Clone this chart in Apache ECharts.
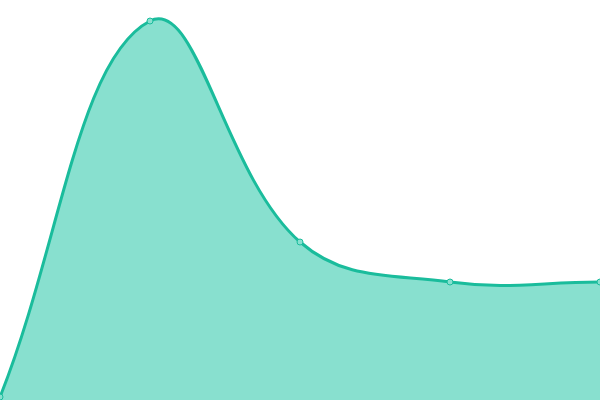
<!DOCTYPE html>
<html><head><meta charset="utf-8">
<script src="https://cdn.jsdelivr.net/npm/echarts@6/dist/echarts.min.js"></script>
<style>html,body{margin:0;padding:0;background:#fff}#c{width:600px;height:400px}</style>
</head><body><div id="c"></div>
<script>
const categories = ['A', 'B', 'C', 'D', 'E'];
const values = [3, 379, 158, 118, 118];
const tension = 0.4;

function splinePath(pts) {
  // cardinal-style bezier control points (Chart.js-like)
  const n = pts.length;
  const cps = [];
  for (let i = 0; i < n; i++) {
    const prev = pts[Math.max(i - 1, 0)];
    const cur = pts[i];
    const next = pts[Math.min(i + 1, n - 1)];
    const d01 = Math.hypot(cur[0] - prev[0], cur[1] - prev[1]);
    const d12 = Math.hypot(next[0] - cur[0], next[1] - cur[1]);
    let s01 = d01 / (d01 + d12), s12 = d12 / (d01 + d12);
    s01 = isNaN(s01) ? 0 : s01; s12 = isNaN(s12) ? 0 : s12;
    const fa = tension * s01, fb = tension * s12;
    cps.push({
      prev: [cur[0] - fa * (next[0] - prev[0]), cur[1] - fa * (next[1] - prev[1])],
      next: [cur[0] + fb * (next[0] - prev[0]), cur[1] + fb * (next[1] - prev[1])]
    });
  }
  let d = 'M' + pts[0][0] + ' ' + pts[0][1];
  for (let i = 1; i < n; i++) {
    const c1 = cps[i - 1].next, c2 = cps[i].prev;
    d += ' C' + c1[0] + ' ' + c1[1] + ' ' + c2[0] + ' ' + c2[1] + ' ' + pts[i][0] + ' ' + pts[i][1];
  }
  return d;
}

const chart = echarts.init(document.getElementById('c'));
chart.setOption({
  animation: false,
  grid: { left: 0, right: 0, top: 0, bottom: 0 },
  xAxis: { type: 'category', data: categories, boundaryGap: false, show: false },
  yAxis: { type: 'value', min: 0, max: 400, show: false },
  series: [{
    type: 'custom',
    data: [0],
    clip: false,
    silent: true,
    renderItem: function (params, api) {
      const pts = values.map((v, i) => api.coord([i, v]));
      const line = splinePath(pts);
      const base = api.coord([0, 0])[1];
      const area = line + ' L' + pts[pts.length - 1][0] + ' ' + base + ' L' + pts[0][0] + ' ' + base + ' Z';
      return {
        type: 'group',
        children: [
          { type: 'path', shape: { pathData: area }, style: { fill: '#88e0cf', stroke: null } },
          { type: 'path', shape: { pathData: line }, style: { fill: null, stroke: '#1abc9c', lineWidth: 3 } }
        ]
      };
    }
  }, {
    type: 'line',
    data: values,
    z: 5,
    symbol: 'circle',
    symbolSize: 6,
    lineStyle: { width: 0, opacity: 0 },
    itemStyle: { color: '#88e0cf', borderColor: '#1abc9c', borderWidth: 1 }
  }]
});
</script></body></html>
